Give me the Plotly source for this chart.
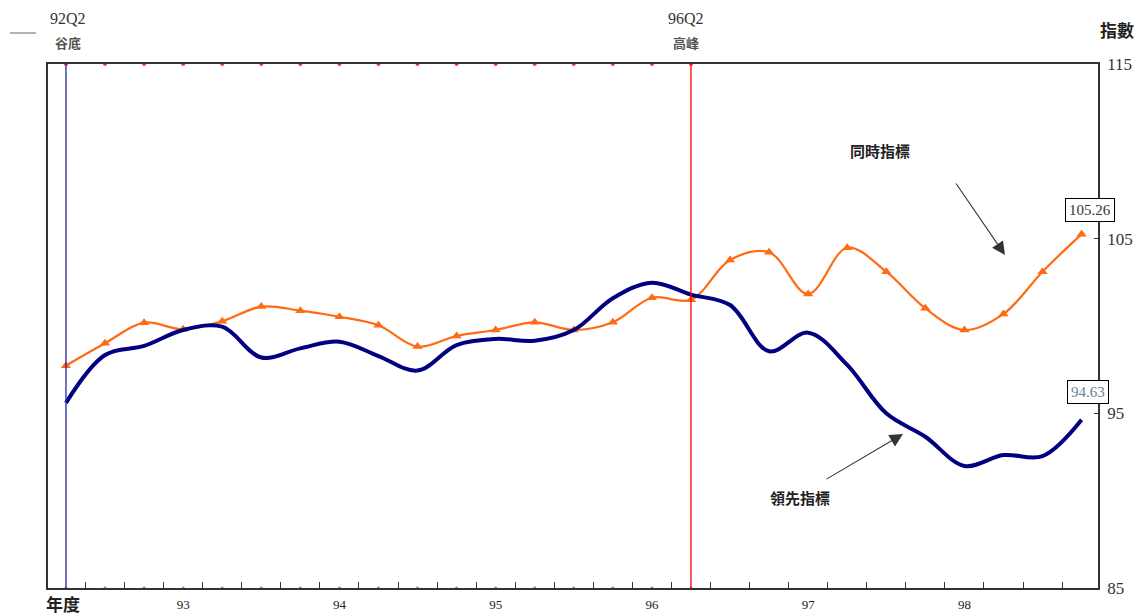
import plotly.graph_objects as go

# ---------------- data ----------------
periods = ["92Q2", "92Q3", "92Q4",
           "93Q1", "93Q2", "93Q3", "93Q4",
           "94Q1", "94Q2", "94Q3", "94Q4",
           "95Q1", "95Q2", "95Q3", "95Q4",
           "96Q1", "96Q2", "96Q3", "96Q4",
           "97Q1", "97Q2", "97Q3", "97Q4",
           "98Q1", "98Q2", "98Q3", "98Q4"]

coincident = [97.73, 99.01, 100.19, 99.81, 100.27, 101.11, 100.88, 100.53, 100.04,
              98.82, 99.43, 99.77, 100.21, 99.77, 100.21, 101.62, 101.50, 103.78,
              104.22, 101.83, 104.48, 103.11, 101.01, 99.77, 100.69, 103.11, 105.26]

leading = [95.60, 98.34, 98.86, 99.77, 99.96, 98.20, 98.72, 99.10, 98.28,
           97.45, 98.91, 99.26, 99.16, 99.77, 101.59, 102.48, 101.80, 101.20,
           98.55, 99.62, 97.77, 95.00, 93.66, 91.99, 92.61, 92.55, 94.63]

year_labels = ["93", "94", "95", "96", "97", "98"]
year_first_q = ["93Q1", "94Q1", "95Q1", "96Q1", "97Q1", "98Q1"]

trough = "92Q2"
peak = "96Q2"
trough_label = "谷底"
peak_label = "高峰"

y_ticks = [85, 95, 105, 115]

# ---------------- derived positions ----------------
xi = list(range(len(periods)))
idx = {p: i for i, p in enumerate(periods)}
t_i, p_i = idx[trough], idx[peak]
year_pos = [idx[q] for q in year_first_q]
boundaries = [i + 0.5 for i in range(len(periods) - 1)]

W, H = 1139, 616
L, R, T, B = 48, 1098, 64, 588


def P(px, py):
    return (px - L) / (R - L), (B - py) / (B - T)


SERIF = "Liberation Serif, Times New Roman, serif"
CJK = "Noto Sans CJK TC, Noto Sans CJK SC, sans-serif"

fig = go.Figure()

# expansion-period markers along the top and bottom frames
fig.add_trace(go.Scatter(x=xi[t_i:p_i + 1], y=[115] * (p_i - t_i + 1), mode="markers",
                         marker=dict(color="#ff3333", size=4), cliponaxis=False,
                         hoverinfo="skip", showlegend=False))
fig.add_trace(go.Scatter(x=xi[t_i:p_i + 1], y=[85] * (p_i - t_i + 1), mode="markers",
                         marker=dict(color="#888888", size=3), cliponaxis=False,
                         hoverinfo="skip", showlegend=False))

# coincident index
fig.add_trace(go.Scatter(x=xi, y=coincident, mode="lines+markers", name="同時指標",
                         line=dict(color="#ff6a13", width=2.2, shape="spline", smoothing=1.0),
                         marker=dict(symbol="triangle-up", size=9, color="#ff6a13"),
                         cliponaxis=False, showlegend=False))
# leading index
fig.add_trace(go.Scatter(x=xi, y=leading, mode="lines", name="領先指標",
                         line=dict(color="#000080", width=4, shape="spline", smoothing=1.0),
                         cliponaxis=False, showlegend=False))

shapes = []
# trough / peak lines
shapes.append(dict(type="line", xref="x", yref="paper", x0=t_i, x1=t_i, y0=0, y1=1,
                   line=dict(color="#2a2aa0", width=1.3)))
shapes.append(dict(type="line", xref="x", yref="paper", x0=p_i, x1=p_i, y0=0, y1=1,
                   line=dict(color="#ff0000", width=1.3)))
# small legend stub at top-left
x0p, y0p = P(10, 33)
x1p, _ = P(36, 33)
shapes.append(dict(type="line", xref="paper", yref="paper", x0=x0p, x1=x1p, y0=y0p, y1=y0p,
                   line=dict(color="#999999", width=1.5)))

ann = []


def text(px, py, s, size, font=SERIF, color="#333333"):
    xp, yp = P(px, py)
    ann.append(dict(x=xp, y=yp, xref="paper", yref="paper", text=s, showarrow=False,
                    font=dict(family=font, size=size, color=color),
                    xanchor="center", yanchor="middle"))


def xtext(xv, dx, py, s, size, font, color):
    _, yp = P(0, py)
    ann.append(dict(x=xv, y=yp, xref="x", yref="paper", xshift=dx, text=s, showarrow=False,
                    font=dict(family=font, size=size, color=color),
                    xanchor="center", yanchor="middle"))


# trough / peak labels above the frame
xtext(t_i, 2, 18, trough, 16, SERIF, "#333333")
xtext(t_i, 2, 43, "<b>" + trough_label + "</b>", 13, CJK, "#555555")
xtext(p_i, -5, 18, peak, 16, SERIF, "#333333")
xtext(p_i, -5, 43, "<b>" + peak_label + "</b>", 13, CJK, "#555555")

text(1117, 30, "<b>指數</b>", 17, CJK, "#222222")
text(63, 603, "<b>年度</b>", 17, CJK, "#222222")
text(880, 150, "<b>同時指標</b>", 15, CJK, "#222222")
text(800, 497, "<b>領先指標</b>", 15, CJK, "#222222")

# arrows
hx, hy = P(1005, 255)
ann.append(dict(x=hx, y=hy, xref="paper", yref="paper", text="", showarrow=True,
                ax=-50, ay=-73, arrowhead=2, arrowsize=2.4, arrowwidth=1.1, arrowcolor="#333333"))
hx, hy = P(903, 434)
ann.append(dict(x=hx, y=hy, xref="paper", yref="paper", text="", showarrow=True,
                ax=-78, ay=46, arrowhead=2, arrowsize=2.4, arrowwidth=1.1, arrowcolor="#333333"))

# last-value boxes
ann.append(dict(x=xi[-1], y=coincident[-1], xref="x", yref="y", yshift=24, xshift=8,
                text=f"{coincident[-1]:.2f}", showarrow=False, bordercolor="#000000", borderwidth=1,
                borderpad=3, bgcolor="white", font=dict(family=SERIF, size=15, color="#333333")))
ann.append(dict(x=xi[-1], y=leading[-1], xref="x", yref="y", yshift=28, xshift=6,
                text=f"{leading[-1]:.2f}", showarrow=False, bordercolor="#000000", borderwidth=1,
                borderpad=3, bgcolor="white", font=dict(family=SERIF, size=15, color="#6a7f99")))

fig.update_layout(
    width=W, height=H,
    margin=dict(l=L, r=W - R, t=T, b=H - B),
    paper_bgcolor="white", plot_bgcolor="white",
    showlegend=False,
    shapes=shapes,
    annotations=ann,
    xaxis=dict(range=[-0.46, 26.42], showgrid=False, zeroline=False, automargin=False,
               showline=True, linecolor="#333333", linewidth=1.5, mirror=True,
               tickmode="array", tickvals=year_pos, ticktext=year_labels, ticks="",
               ticklabelstandoff=4,
               tickfont=dict(family=SERIF, size=13, color="#222222"),
               minor=dict(tickvals=boundaries, ticks="inside", ticklen=6,
                          tickcolor="#333333", tickwidth=1.2, showgrid=False)),
    yaxis=dict(range=[85, 115], side="right", showgrid=False, zeroline=False, automargin=False,
               showline=True, linecolor="#333333", linewidth=1.5, mirror=True,
               tickmode="array", tickvals=y_ticks, ticks="inside", ticklen=4,
               tickcolor="#333333", ticklabelstandoff=4,
               tickfont=dict(family=SERIF, size=17, color="#333333")),
)

fig.write_html("out.html")
